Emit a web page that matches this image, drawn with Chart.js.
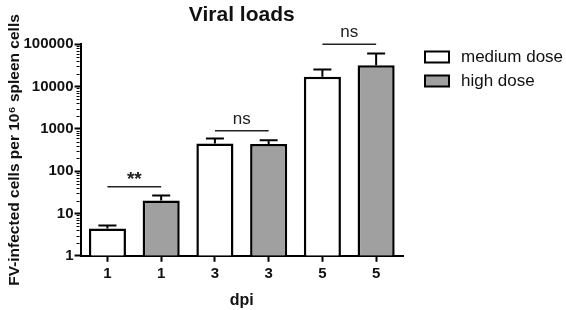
<!DOCTYPE html>
<html><head><meta charset="utf-8">
<script src="https://cdn.jsdelivr.net/npm/chart.js@4"></script>
<style>html,body{margin:0;padding:0;background:#fff}#wrap{width:566px;height:310px}</style>
</head><body><div id="wrap"><canvas id="c" width="566" height="310"></canvas></div>
<script>
const categories = ["1", "1", "3", "3", "5", "5"];
const mediumDose = [4.4, null, 450, null, 17000, null];
const highDose = [null, 20.3, null, 437, null, 31600];
const mediumErr = [5.2, null, 590, null, 25400, null];
const highErr = [null, 26.5, null, 540, null, 60500];
const yTicks = [1, 10, 100, 1000, 10000, 100000];
const sigLabels = ["**", "ns", "ns"];
const sigPairs = [[0, 1], [2, 3], [4, 5]];
const sigLevels = [43, 900, 100000];
const seriesNames = ["medium dose", "high dose"];

const FONT = "'Liberation Sans', Arial, sans-serif";
const errs = [mediumErr, highErr];

const errorBars = {
  id: 'errorBars',
  afterDatasetsDraw(chart) {
    const ctx = chart.ctx, ys = chart.scales.y;
    ctx.save();
    ctx.strokeStyle = '#000'; ctx.lineWidth = 2;
    chart.data.datasets.forEach((ds, i) => {
      const meta = chart.getDatasetMeta(i);
      meta.data.forEach((el, j) => {
        const e = errs[i][j];
        if (e == null || ds.data[j] == null) return;
        const x = el.x, yt = el.y, ye = ys.getPixelForValue(e);
        ctx.beginPath();
        ctx.moveTo(x, yt); ctx.lineTo(x, ye);
        ctx.moveTo(x - 9, ye); ctx.lineTo(x + 9, ye);
        ctx.stroke();
      });
    });
    ctx.restore();
  }
};

const extras = {
  id: 'extras',
  afterDraw(chart) {
    const ctx = chart.ctx, ys = chart.scales.y, xs = chart.scales.x, ca = chart.chartArea;
    ctx.save();
    // minor ticks
    ctx.strokeStyle = '#000'; ctx.lineWidth = 1;
    const ax = ca.left - 1;
    for (let n = 0; n < 5; n++) {
      for (let k = 2; k <= 9; k++) {
        const y = Math.round(ys.getPixelForValue(k * Math.pow(10, n))) + 0.5;
        ctx.beginPath(); ctx.moveTo(ax - 3, y); ctx.lineTo(ax, y); ctx.stroke();
      }
    }
    // significance brackets
    ctx.lineWidth = 1.5; ctx.strokeStyle = '#222';
    ctx.fillStyle = '#222';
    ctx.textAlign = 'center'; ctx.textBaseline = 'bottom';
    sigPairs.forEach((p, i) => {
      const x1 = xs.getPixelForValue(p[0]), x2 = xs.getPixelForValue(p[1]);
      const y = ys.getPixelForValue(sigLevels[i]);
      ctx.beginPath(); ctx.moveTo(x1, y); ctx.lineTo(x2, y); ctx.stroke();
      const isStar = sigLabels[i].indexOf('*') >= 0;
      ctx.font = (isStar ? "bold 19px " : "17px ") + FONT;
      ctx.fillText(sigLabels[i], (x1 + x2) / 2, isStar ? y + 3 : y - 3);
    });
    // legend
    const lx = ca.right + 22;
    ctx.textAlign = 'left'; ctx.textBaseline = 'middle';
    ctx.font = "17px " + FONT;
    chart.data.datasets.forEach((ds, i) => {
      const cy = 57 + i * 24;
      ctx.fillStyle = ds.backgroundColor;
      ctx.fillRect(lx, cy - 5.5, 24, 11);
      ctx.strokeStyle = '#000'; ctx.lineWidth = 2;
      ctx.strokeRect(lx, cy - 5.5, 24, 11);
      ctx.fillStyle = '#111';
      ctx.fillText(seriesNames[i], lx + 36, cy);
    });
    ctx.restore();
  }
};

new Chart(document.getElementById('c'), {
  type: 'bar',
  data: {
    labels: categories,
    datasets: [
      { label: seriesNames[0], data: mediumDose, backgroundColor: '#ffffff', borderColor: '#000', borderWidth: 2.5 },
      { label: seriesNames[1], data: highDose, backgroundColor: '#a0a0a0', borderColor: '#000', borderWidth: 2.5 }
    ]
  },
  options: {
    responsive: false,
    animation: false,
    grouped: false,
    barPercentage: 0.69,
    categoryPercentage: 1,
    layout: { padding: { top: 3, right: 163, left: 5, bottom: 0 } },
    plugins: {
      title: { display: true, text: 'Viral loads', fullSize: false, color: '#111',
        font: { family: FONT, size: 21, weight: 'bold' }, padding: { top: 0, bottom: 16 } },
      legend: { display: false },
      tooltip: { enabled: false }
    },
    scales: {
      x: {
        type: 'category',
        grid: { display: true, offset: false, drawOnChartArea: false, drawTicks: true, tickLength: 6, tickWidth: 2, tickColor: '#000' },
        border: { display: true, color: '#000', width: 2 },
        ticks: { color: '#111', font: { family: FONT, size: 15, weight: 'bold' }, padding: 3 },
        title: { display: true, text: 'dpi', color: '#111', font: { family: FONT, size: 16, weight: 'bold' }, padding: { top: 5, bottom: 0 } }
      },
      y: {
        type: 'logarithmic', min: 1, max: 100000,
        afterBuildTicks: (s) => { s.ticks = yTicks.map(v => ({ value: v, major: true })); },
        grid: { display: true, drawOnChartArea: false, drawTicks: true, tickLength: 6, tickWidth: 2, tickColor: '#000' },
        border: { display: true, color: '#000', width: 2 },
        ticks: { color: '#111', font: { family: FONT, size: 15, weight: 'bold' }, padding: 1,
          callback: (v) => String(v) },
        title: { display: true, text: 'FV-infected cells per 10\u2076 spleen cells', color: '#111',
          font: { family: FONT, size: 15.5, weight: 'bold', lineHeight: 1 }, padding: { top: 2, bottom: 0 } }
      }
    }
  },
  plugins: [errorBars, extras]
});
</script>
</body></html>
